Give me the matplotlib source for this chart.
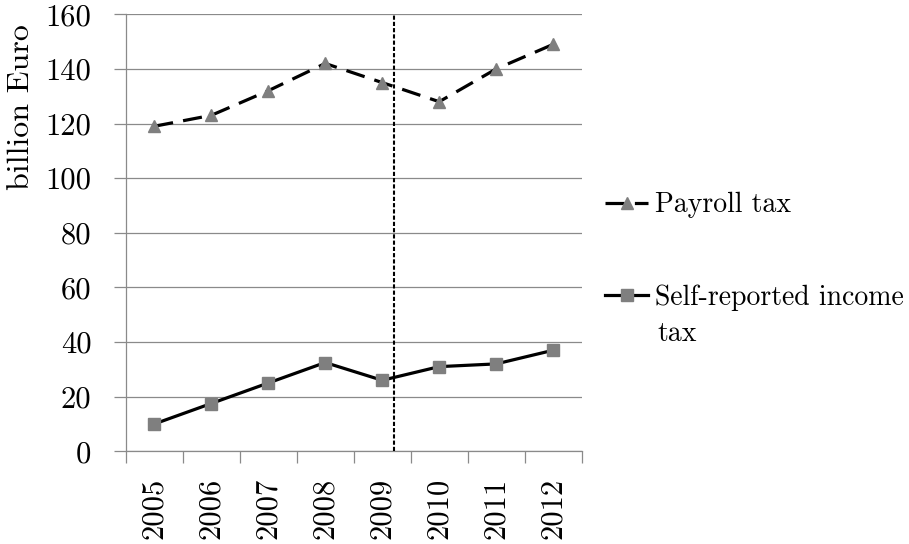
import matplotlib
matplotlib.use("Agg")
import matplotlib.pyplot as plt
from matplotlib.ticker import FixedLocator

years = ["2005", "2006", "2007", "2008", "2009", "2010", "2011", "2012"]
payroll = [119, 123, 132, 142, 135, 128, 140, 149]
self_reported = [10, 17.5, 25, 32.5, 26, 31, 32, 37]
yticks = [0, 20, 40, 60, 80, 100, 120, 140, 160]
break_x = 4.2

plt.rcParams['font.family'] = ['cmr10', 'DejaVu Serif']
plt.rcParams['axes.formatter.use_mathtext'] = True

W, H = 909, 544
fig = plt.figure(figsize=(W / 100, H / 100), dpi=100)
ax = fig.add_axes([125.7 / W, 1 - 451.3 / H, (581.7 - 125.7) / W, (451.3 - 14.3) / H])

gray = '#8a8a8a'
mk = '#7f7f7f'
x = list(range(len(years)))

ax.plot(x, payroll, color='black', lw=2.3, linestyle=(0, (6.0, 3.2)),
        marker='^', markersize=9, markerfacecolor=mk, markeredgecolor=mk,
        label='Payroll tax', zorder=3)
ax.plot(x, self_reported, color='black', lw=2.3,
        marker='s', markersize=8, markerfacecolor=mk, markeredgecolor=mk,
        label='Self-reported income', zorder=3)
ax.axvline(break_x, color='black', lw=1.5, linestyle=(0, (2, 1)), zorder=4)

ax.set_xlim(-0.5, len(years) - 0.5)
ax.set_ylim(0, 160)
ax.set_yticks(yticks)
ax.set_yticklabels([str(v) for v in yticks])
ax.set_xticks(x)
ax.set_xticklabels(years, rotation=90)
ax.xaxis.set_minor_locator(FixedLocator([i - 0.5 for i in range(len(years) + 1)]))

ax.grid(axis='y', color=gray, lw=0.9)
ax.set_axisbelow(True)
for s in ['top', 'right']:
    ax.spines[s].set_visible(False)
for s in ['left', 'bottom']:
    ax.spines[s].set_color(gray)
    ax.spines[s].set_linewidth(0.9)

ax.tick_params(axis='y', length=8.6, width=0.9, color=gray, labelsize=22, pad=16)
ax.tick_params(axis='x', which='major', length=0, labelsize=22, pad=19)
ax.tick_params(axis='x', which='minor', length=8.6, width=0.9, color=gray)

fig.text(21 / W, 1 - 107 / H, 'billion Euro', rotation=90, fontsize=23,
         ha='center', va='center')

leg = ax.legend(loc='upper left', bbox_to_anchor=(605 / W, 1 - 192 / H),
                bbox_transform=fig.transFigure, frameon=False, fontsize=20,
                handlelength=1.55, handletextpad=0.25, labelspacing=2.38,
                borderpad=0, borderaxespad=0)
fig.text(657 / W, 1 - 334 / H, 'tax', fontsize=20, ha='left', va='center')

fig.savefig('out.png', dpi=100)
